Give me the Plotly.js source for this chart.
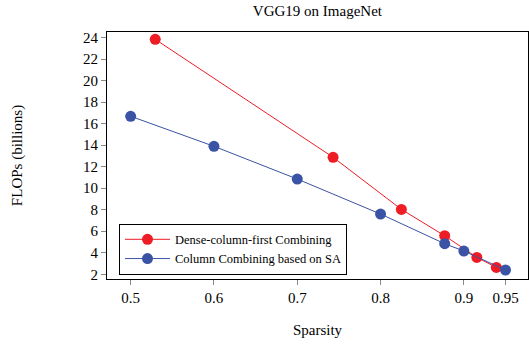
<!DOCTYPE html>
<html><head><meta charset="utf-8">
<script src="https://cdn.plot.ly/plotly-3.0.1.min.js"></script>
<style>html,body{margin:0;padding:0;background:#fff}#chart{width:529px;height:346px}</style>
</head><body><div id="chart"></div>
<script>
const denseX = [0.5295, 0.743, 0.825, 0.877, 0.9156, 0.939];
const denseY = [23.83, 12.87, 8.03, 5.58, 3.57, 2.64];
const saX = [0.5, 0.6, 0.7, 0.8, 0.877, 0.9, 0.95];
const saY = [16.68, 13.89, 10.85, 7.6, 4.84, 4.16, 2.4];
const xTicks = [0.5, 0.6, 0.7, 0.8, 0.9, 0.95];
const xTickText = ["0.5", "0.6", "0.7", "0.8", "0.9", "0.95"];
const yTicks = [2, 4, 6, 8, 10, 12, 14, 16, 18, 20, 22, 24];

const serif = "Liberation Serif";
const traces = [
  {x: denseX, y: denseY, mode: "lines+markers", name: "Dense-column-first Combining",
   line: {color: "#ee1c25", width: 1}, marker: {color: "#ee1c25", size: 11}},
  {x: saX, y: saY, mode: "lines+markers", name: "Column Combining based on SA",
   line: {color: "#3a53a4", width: 1}, marker: {color: "#3a53a4", size: 11}}
];
const layout = {
  width: 529, height: 346,
  margin: {l: 107, r: 1, t: 32, b: 67},
  paper_bgcolor: "#fff", plot_bgcolor: "#fff",
  font: {family: serif, color: "#000", size: 13},
  title: {text: "VGG19 on ImageNet", font: {family: serif, size: 15, color: "#000"}, x: 0.6, xanchor: "center", y: 0.985, yanchor: "top"},
  xaxis: {range: [0.4716, 0.977], tickvals: xTicks, ticktext: xTickText, showgrid: false, zeroline: false,
    showline: true, linecolor: "#000", linewidth: 1, mirror: true, ticks: "outside", ticklen: 5, tickcolor: "#888",
    tickfont: {family: serif, size: 15, color: "#000"}, title: {text: "Sparsity", font: {family: serif, size: 15}, standoff: 19}},
  yaxis: {range: [1.563, 24.51], tickvals: yTicks, showgrid: false, zeroline: false,
    showline: true, linecolor: "#000", linewidth: 1, mirror: true, ticks: "outside", ticklen: 5, tickcolor: "#888",
    tickfont: {family: serif, size: 15, color: "#000"}, title: {text: "FLOPs (billions)", font: {family: serif, size: 15}, standoff: 56}},
  legend: {x: 0.0285, y: 0.224, xanchor: "left", yanchor: "top", bgcolor: "#fff", bordercolor: "#000", borderwidth: 1,
    font: {family: serif, size: 12.5, color: "#000"}, itemwidth: 45, tracegroupgap: 0},
  showlegend: true
};
Plotly.newPlot("chart", traces, layout, {displayModeBar: false, staticPlot: true});
</script></body></html>
